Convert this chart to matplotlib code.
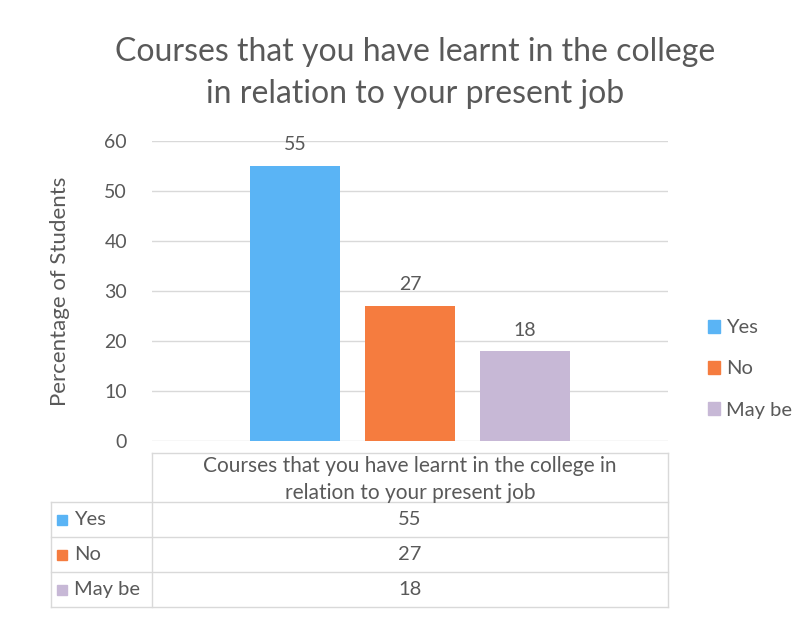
import matplotlib
matplotlib.use('Agg')
import matplotlib.pyplot as plt
from matplotlib.patches import Patch, Rectangle

title = 'Courses that you have learnt in the college\nin relation to your present job'
category = 'Courses that you have learnt in the college in\nrelation to your present job'
labels = ['Yes', 'No', 'May be']
values = [55, 27, 18]
colors = ['#5AB4F5', '#F57C3F', '#C7B8D6']
yticks = [0, 10, 20, 30, 40, 50, 60]

W, H = 806, 617
txt = '#595959'
grid = '#D9D9D9'
plt.rcParams['font.family'] = ['Lato', 'DejaVu Sans']

fig = plt.figure(figsize=(W / 100, H / 100), dpi=100)

def px(x, y): # pixel -> figure fraction
	return x / W, 1 - y / H

left, right, top, bottom = 152, 668, 141, 441
ax = fig.add_axes([left / W, 1 - bottom / H, (right - left) / W, (bottom - top) / H])

xs = list(range(len(values)))
ax.bar(xs, values, width=0.78, color=colors, zorder=2)
for x, v in zip(xs, values):
	ax.annotate(str(v), (x, v), xytext=(0, 9), textcoords='offset points',
		ha='center', va='bottom', fontsize=14, color=txt)

ax.set_xlim(-1.243, 3.243)
ax.set_ylim(0, 60)
ax.set_yticks(yticks)
ax.set_xticks([])
ax.tick_params(axis='y', length=0, pad=18, labelsize=14, labelcolor=txt)
ax.yaxis.grid(True, color=grid, lw=1, zorder=0)
for s in ax.spines.values():
	s.set_visible(False)

fig.text(*px(60, 291), 'Percentage of Students', rotation=90, ha='center', va='center',
	fontsize=16, color=txt)
fig.text(*px(415, 73), title, ha='center', va='center', fontsize=23, color=txt,
	linespacing=1.5)

# data table below the axis
tf = fig.transFigure
def hline(x0, x1, y):
	fig.add_artist(plt.Line2D([x0 / W, x1 / W], [1 - y / H, 1 - y / H], color=grid, lw=1, transform=tf))
def vline(x, y0, y1):
	fig.add_artist(plt.Line2D([x / W, x / W], [1 - y0 / H, 1 - y1 / H], color=grid, lw=1, transform=tf))

tab_left, head_top, head_bot, row_h = 51, 453, 502, 35
hline(left, right, head_top)
vline(left, head_top, head_bot + row_h * len(values))
vline(right, head_top, head_bot + row_h * len(values))
vline(tab_left, head_bot, head_bot + row_h * len(values))
fig.text(*px((left + right) / 2, (head_top + head_bot) / 2 + 2), category, ha='center', va='center',
	fontsize=15, color=txt, linespacing=1.4)
for i, (lab, v, c) in enumerate(zip(labels, values, colors)):
	y0 = head_bot + row_h * i
	hline(tab_left, right, y0)
	yc = y0 + row_h / 2
	fig.add_artist(Rectangle(px(57, yc + 5), 10 / W, 10 / H, color=c, transform=tf))
	fig.text(*px(74, yc), lab, ha='left', va='center', fontsize=14.5, color=txt)
	fig.text(*px((left + right) / 2, yc), str(v), ha='center', va='center', fontsize=14.5, color=txt)
hline(tab_left, right, head_bot + row_h * len(values))

handles = [Patch(color=c, label=l) for c, l in zip(colors, labels)]
fig.legend(handles=handles, loc='center left', bbox_to_anchor=px(690, 369), frameon=False,
	fontsize=14.5, labelcolor=txt, handlelength=0.6, handleheight=0.6, handletextpad=0.3,
	labelspacing=1.2)

fig.savefig('out.png', dpi=100, facecolor='white')
